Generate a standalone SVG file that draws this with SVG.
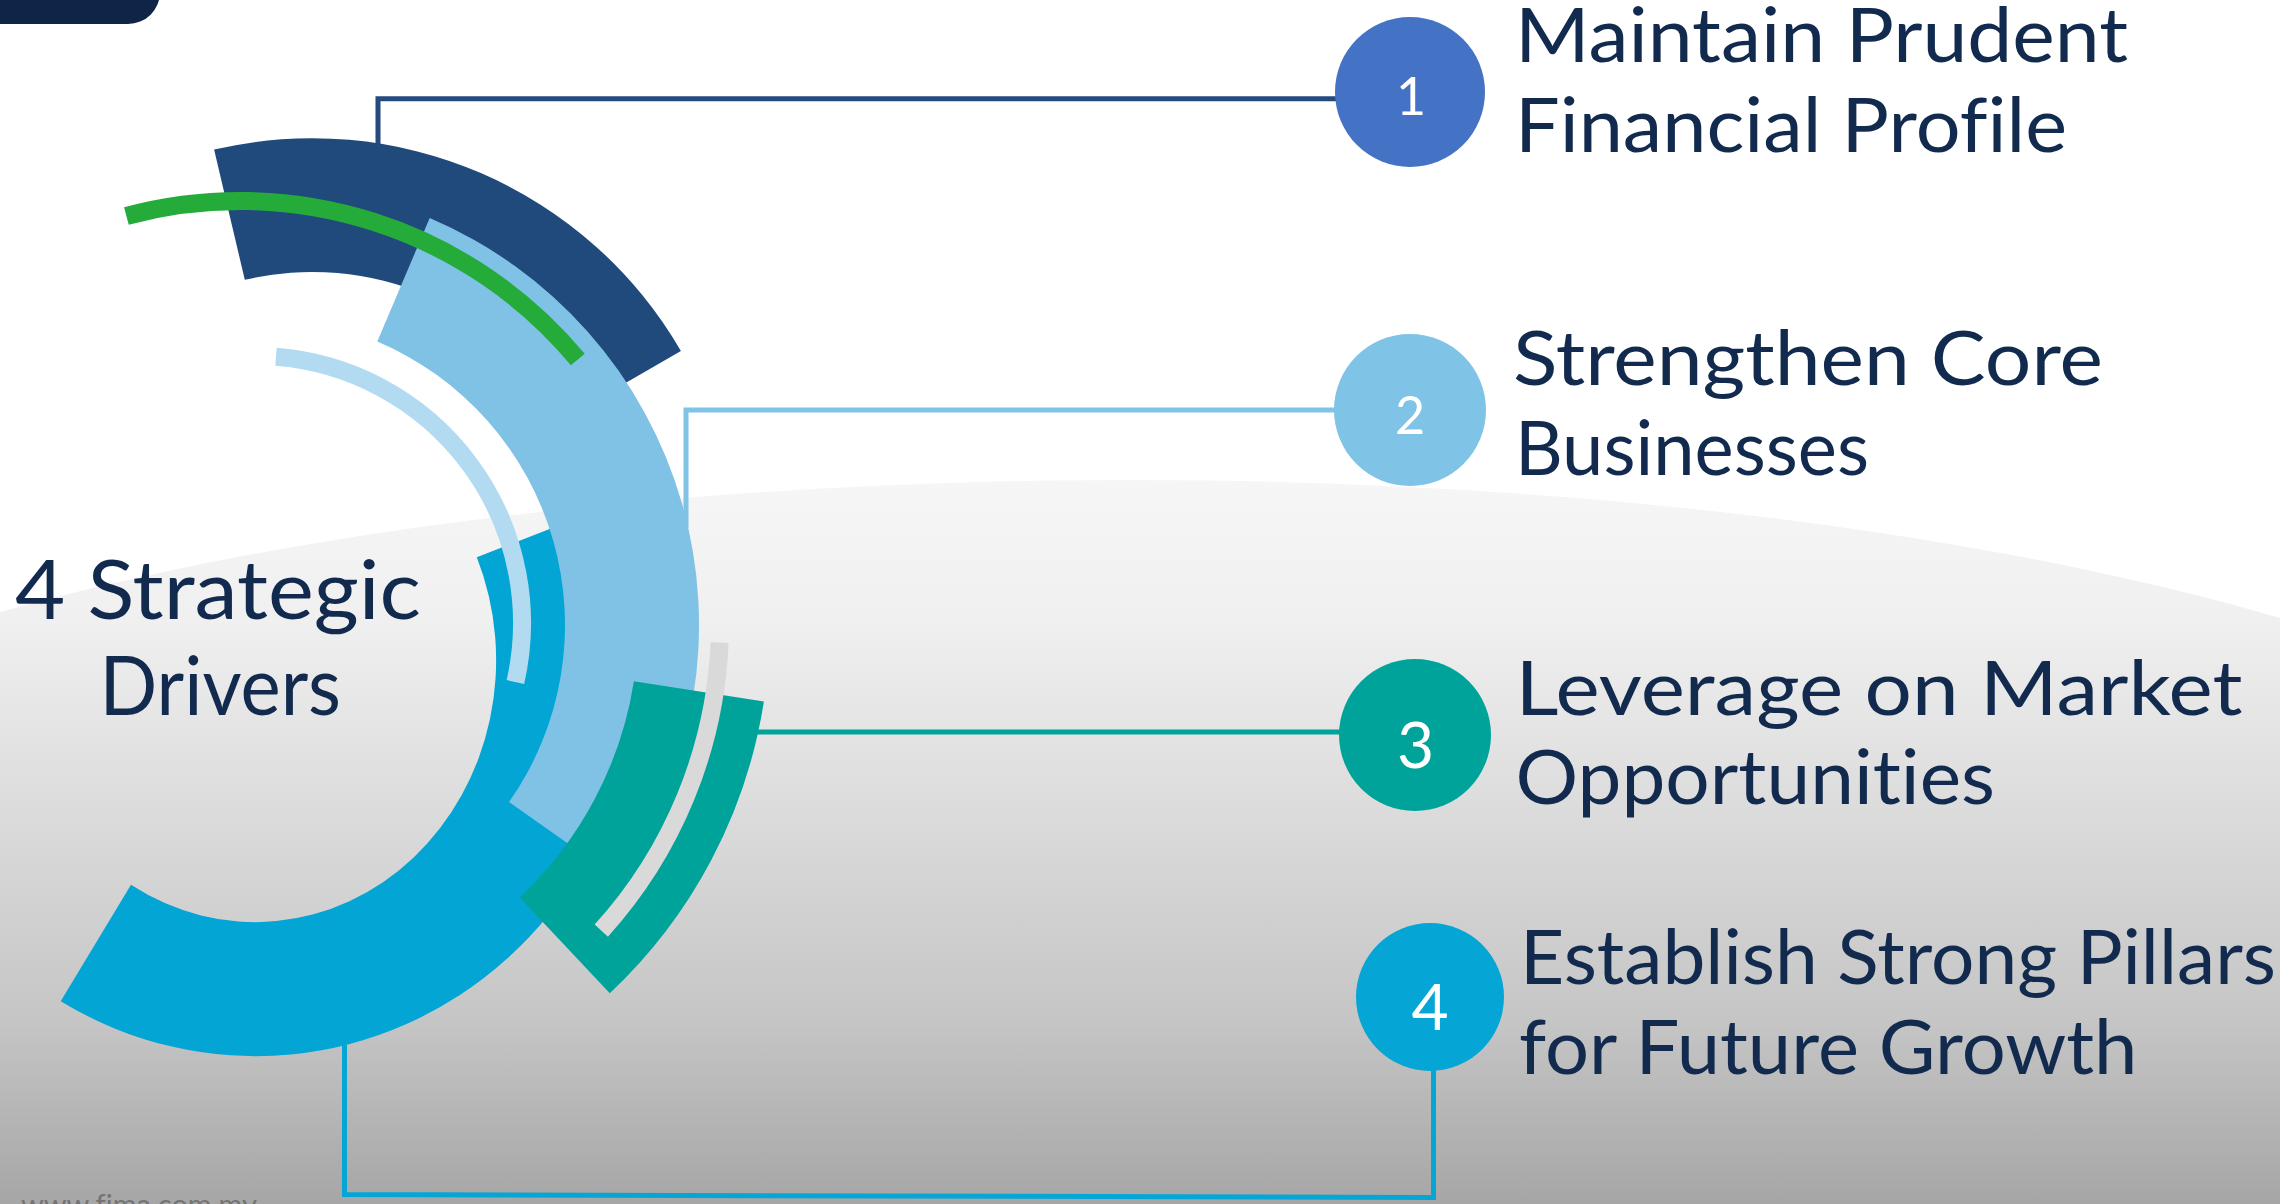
<svg xmlns="http://www.w3.org/2000/svg" width="2280" height="1204" viewBox="0 0 2280 1204">
  <defs>
    <linearGradient id="floor" gradientUnits="userSpaceOnUse" x1="0" y1="480" x2="0" y2="1204">
      <stop offset="0" stop-color="#f6f6f6"/>
      <stop offset="0.19" stop-color="#f0f0f0"/>
      <stop offset="0.75" stop-color="#c5c5c5"/>
      <stop offset="1" stop-color="#a6a6a6"/>
    </linearGradient>
    <style>
      text { font-variant-ligatures: none; font-feature-settings: "liga" 0, "dlig" 0; }
      .lbl { font-family: Lato, "Liberation Sans", sans-serif; font-size: 76px; fill: #112a4e; }
      .ttl { font-family: Lato, "Liberation Sans", sans-serif; font-size: 81px; fill: #112a4e; }
      .num { font-family: Lato, "Liberation Sans", sans-serif; fill: #ffffff; text-anchor: middle; }
      .conn { fill: none; stroke-width: 5; stroke-linejoin: miter; }
      .thin { fill: none; stroke-width: 18; stroke-linecap: butt; }
    </style>
  </defs>

  <!-- background -->
  <rect x="0" y="0" width="2280" height="1204" fill="#ffffff"/>
  <ellipse cx="1130" cy="933" rx="1600" ry="453" fill="url(#floor)"/>
  <rect x="-40" y="-40" width="200" height="64" rx="32" ry="32" fill="#0f2548"/>
  <text x="21" y="1215" font-family="Lato, 'Liberation Sans', sans-serif" font-size="28" fill="#737373" textLength="236" lengthAdjust="spacingAndGlyphs">www.fima.com.my</text>

  <!-- connectors -->
  <g id="connectors">
    <polyline class="conn" stroke="#244a7e" points="378,146 378,98.7 1340,98.7"/>
    <polyline class="conn" stroke="#7fc3e6" points="686,528 686,410 1338,410"/>
    <polyline class="conn" stroke="#00a39a" points="755,732 1342,732"/>
    <polyline class="conn" stroke="#05a6d6" points="344.5,1045 344.5,1194.5 1433.5,1197.5 1433.5,1068"/>
  </g>

  <!-- central arcs -->
  <g id="hub">
    <path id="arc-navy" fill="#204a7c" d="M214.1,149.6 A426,426 0 0,1 680.9,351 L564.9,418 A292,292 0 0,0 244.8,279.8 Z"/>
    <path id="arc-blue" fill="#03a5d4" d="M60.7,1001.2 A383,396 0 0,0 608.2,506.1 L476.8,557.3 A241,262 0 0,1 131,884.7 Z"/>
    <path id="arc-lightblue" fill="#7fc2e6" d="M429.7,218.1 A442,442 0 0,1 618.6,879.2 L509,802.1 A308,308 0 0,0 377.3,341.5 Z"/>
    <path id="arc-paleblue" class="thin" stroke="#b2dbf1" d="M276,356.8 A267,267 0 0,1 515.4,682.1"/>
    <path id="arc-green" class="thin" stroke="#25ab3a" d="M126.4,216 A439,439 0 0,1 577.8,359.6"/>
    <path id="arc-teal" fill="#00a39a" d="M763.9,701.6 A508,508 0 0,1 609.8,993.3 L519.7,897.4 A376.4,376.4 0 0,0 633.9,681.2 Z"/>
    <path id="arc-grey" class="thin" stroke="#d9d9d9" d="M719.6,642.5 A458,458 0 0,1 601.3,930.6"/>
  </g>

  <g id="title">
    <text class="ttl" x="15" y="619" textLength="406" lengthAdjust="spacingAndGlyphs">4 Strategic</text>
    <text class="ttl" x="99.5" y="714.5" textLength="241.5" lengthAdjust="spacingAndGlyphs">Drivers</text>
  </g>

  <g id="node1">
    <circle cx="1410" cy="92" r="75" fill="#4472c4"/>
    <text class="num" x="1411" y="114.8" font-size="52">1</text>
    <text class="lbl" x="1515" y="62.4" textLength="613" lengthAdjust="spacingAndGlyphs">Maintain Prudent</text>
    <text class="lbl" x="1515" y="152" textLength="552" lengthAdjust="spacingAndGlyphs">Financial Profile</text>
  </g>

  <g id="node2">
    <circle cx="1410" cy="410" r="76" fill="#7fc3e6"/>
    <text class="num" x="1410" y="434" font-size="52">2</text>
    <text class="lbl" x="1513" y="384.6" textLength="590" lengthAdjust="spacingAndGlyphs">Strengthen Core</text>
    <text class="lbl" x="1515" y="474.6" textLength="354" lengthAdjust="spacingAndGlyphs">Businesses</text>
  </g>

  <g id="node3">
    <circle cx="1415" cy="735" r="76" fill="#00a39a"/>
    <text class="num" x="1415.5" y="767.6" font-size="64">3</text>
    <text class="lbl" x="1515.5" y="714.8" textLength="727" lengthAdjust="spacingAndGlyphs">Leverage on Market</text>
    <text class="lbl" x="1515.5" y="804" textLength="479.5" lengthAdjust="spacingAndGlyphs">Opportunities</text>
  </g>

  <g id="node4">
    <circle cx="1430" cy="997" r="74" fill="#05a6d6"/>
    <text class="num" x="1430" y="1029.5" font-size="64">4</text>
    <text class="lbl" x="1520" y="984" textLength="756" lengthAdjust="spacingAndGlyphs">Establish Strong Pillars</text>
    <text class="lbl" x="1519" y="1073.8" textLength="618.5" lengthAdjust="spacingAndGlyphs">for Future Growth</text>
  </g>
</svg>
